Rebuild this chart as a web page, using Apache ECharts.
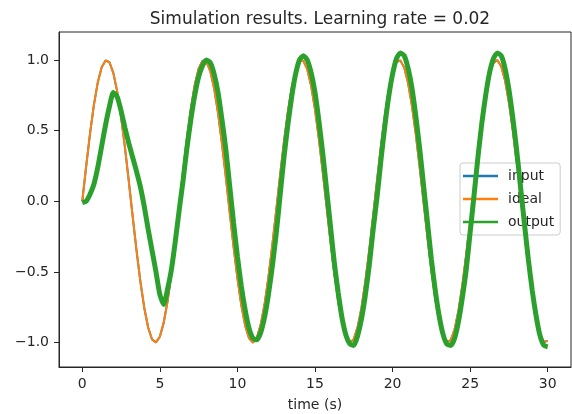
<!DOCTYPE html>
<html><head><meta charset="utf-8">
<script src="https://cdn.jsdelivr.net/npm/echarts@6/dist/echarts.min.js"></script>
<style>html,body{margin:0;padding:0;background:#fff}#c{width:572px;height:414px}</style>
</head><body><div id="c"></div>
<script>
const time = [0,0.25,0.5,0.75,1,1.25,1.5,1.75,2,2.25,2.5,2.75,3,3.25,3.5,3.75,4,4.25,4.5,4.75,5,5.25,5.5,5.75,6,6.25,6.5,6.75,7,7.25,7.5,7.75,8,8.25,8.5,8.75,9,9.25,9.5,9.75,10,10.25,10.5,10.75,11,11.25,11.5,11.75,12,12.25,12.5,12.75,13,13.25,13.5,13.75,14,14.25,14.5,14.75,15,15.25,15.5,15.75,16,16.25,16.5,16.75,17,17.25,17.5,17.75,18,18.25,18.5,18.75,19,19.25,19.5,19.75,20,20.25,20.5,20.75,21,21.25,21.5,21.75,22,22.25,22.5,22.75,23,23.25,23.5,23.75,24,24.25,24.5,24.75,25,25.25,25.5,25.75,26,26.25,26.5,26.75,27,27.25,27.5,27.75,28,28.25,28.5,28.75,29,29.25,29.5,29.75,30];

const inputValues = [0,0.247,0.479,0.682,0.841,0.949,0.997,0.984,0.909,0.778,0.598,0.382,0.141,-0.108,-0.351,-0.572,-0.757,-0.895,-0.978,-0.999,-0.959,-0.859,-0.706,-0.509,-0.279,-0.033,0.215,0.450,0.657,0.823,0.938,0.995,0.989,0.922,0.798,0.625,0.412,0.174,-0.075,-0.319,-0.544,-0.735,-0.880,-0.970,-1.000,-0.967,-0.875,-0.729,-0.537,-0.311,-0.066,0.183,0.420,0.632,0.804,0.926,0.991,0.994,0.935,0.818,0.650,0.441,0.206,-0.042,-0.288,-0.516,-0.712,-0.864,-0.961,-1.000,-0.976,-0.891,-0.751,-0.564,-0.343,-0.100,0.150,0.390,0.606,0.784,0.913,0.986,0.997,0.946,0.837,0.675,0.472,0.238,-0.009,-0.256,-0.487,-0.688,-0.846,-0.952,-0.997,-0.982,-0.906,-0.773,-0.592,-0.374,-0.132,0.117,0.359,0.579,0.763,0.899,0.979,0.999,0.956,0.854,0.699,0.501,0.271,0.024,-0.223,-0.458,-0.664,-0.828,-0.941,-0.996,-0.988];

const idealValues = [0,0.247,0.479,0.682,0.841,0.949,0.997,0.984,0.909,0.778,0.598,0.382,0.141,-0.108,-0.351,-0.572,-0.757,-0.895,-0.978,-0.999,-0.959,-0.859,-0.706,-0.509,-0.279,-0.033,0.215,0.450,0.657,0.823,0.938,0.995,0.989,0.922,0.798,0.625,0.412,0.174,-0.075,-0.319,-0.544,-0.735,-0.880,-0.970,-1.000,-0.967,-0.875,-0.729,-0.537,-0.311,-0.066,0.183,0.420,0.632,0.804,0.926,0.991,0.994,0.935,0.818,0.650,0.441,0.206,-0.042,-0.288,-0.516,-0.712,-0.864,-0.961,-1.000,-0.976,-0.891,-0.751,-0.564,-0.343,-0.100,0.150,0.390,0.606,0.784,0.913,0.986,0.997,0.946,0.837,0.675,0.472,0.238,-0.009,-0.256,-0.487,-0.688,-0.846,-0.952,-0.997,-0.982,-0.906,-0.773,-0.592,-0.374,-0.132,0.117,0.359,0.579,0.763,0.899,0.979,0.999,0.956,0.854,0.699,0.501,0.271,0.024,-0.223,-0.458,-0.664,-0.828,-0.941,-0.996,-0.988];

const outputValues = [-0.01,0.00,0.05,0.12,0.24,0.39,0.54,0.67,0.77,0.74,0.64,0.52,0.41,0.31,0.21,0.10,-0.04,-0.20,-0.35,-0.50,-0.66,-0.73,-0.62,-0.48,-0.28,-0.06,0.15,0.38,0.58,0.75,0.88,0.96,1.00,0.98,0.90,0.77,0.58,0.37,0.11,-0.15,-0.39,-0.60,-0.77,-0.90,-0.97,-0.98,-0.93,-0.82,-0.66,-0.46,-0.23,0.04,0.31,0.54,0.74,0.90,1.00,1.03,1.00,0.91,0.77,0.57,0.34,0.08,-0.18,-0.44,-0.65,-0.83,-0.95,-1.01,-1.02,-0.95,-0.83,-0.66,-0.45,-0.20,0.03,0.29,0.53,0.74,0.90,1.01,1.05,1.03,0.94,0.80,0.60,0.37,0.11,-0.15,-0.41,-0.63,-0.81,-0.94,-1.01,-1.02,-0.97,-0.85,-0.68,-0.48,-0.22,0.04,0.31,0.55,0.75,0.91,1.01,1.05,1.03,0.94,0.79,0.59,0.36,0.10,-0.16,-0.41,-0.63,-0.81,-0.95,-1.02,-1.03];

const seriesNames = ['input', 'ideal', 'output'];
const xTicks = [0, 5, 10, 15, 20, 25, 30];
const yTicks = [-1, -0.5, 0, 0.5, 1];
const titleText = 'Simulation results. Learning rate = 0.02';
const xName = 'time (s)';

const FONT = 'DejaVu Sans';
const pairs = vals => time.map((t, i) => [t, vals[i]]);
const fmtY = v => (v < 0 ? '\u2212' : '') + Math.abs(v).toFixed(1);

const chart = echarts.init(document.getElementById('c'), null, {renderer: 'canvas'});
chart.setOption({
  animation: false,
  backgroundColor: '#ffffff',
  title: {
    text: titleText, left: 315, top: 6, textAlign: 'center',
    textStyle: {fontFamily: FONT, fontSize: 17, fontWeight: 'normal', color: '#262626'}
  },
  grid: {left: 59, right: 1, top: 32, bottom: 47, containLabel: false, outerBoundsMode: 'none',
    show: true, borderColor: '#262626', borderWidth: 1, backgroundColor: 'transparent'},
  legend: {
    orient: 'vertical', left: 460, top: 163, padding: [6, 6, 6, 3],
    itemWidth: 35, itemHeight: 2.5, itemGap: 9, icon: 'rect',
    backgroundColor: 'rgba(255,255,255,0.8)', borderColor: '#cccccc', borderWidth: 1, borderRadius: 3,
    textStyle: {fontFamily: FONT, fontSize: 14, color: '#262626', padding: [0, 0, 0, 5]},
    data: seriesNames
  },
  xAxis: {
    type: 'value', min: -1.5, max: 31.5,
    name: xName, nameLocation: 'middle', nameGap: 31,
    nameTextStyle: {fontFamily: FONT, fontSize: 14, color: '#262626'},
    axisLine: {show: true, onZero: false, lineStyle: {color: '#262626', width: 1}},
    axisTick: {show: true, length: 5, customValues: xTicks, lineStyle: {color: '#262626'}},
    axisLabel: {customValues: xTicks, margin: 10, fontFamily: FONT, fontSize: 14, color: '#262626',
      formatter: v => String(v)},
    splitLine: {show: false}
  },
  yAxis: {
    type: 'value', min: -1.173, max: 1.198,
    axisLine: {show: true, onZero: false, lineStyle: {color: '#262626', width: 1}},
    axisTick: {show: true, length: 5, customValues: yTicks, lineStyle: {color: '#262626'}},
    axisLabel: {customValues: yTicks, margin: 10, fontFamily: FONT, fontSize: 14, color: '#262626',
      formatter: fmtY},
    splitLine: {show: false}
  },
  series: [
    {name: seriesNames[0], type: 'line', data: pairs(inputValues), symbol: 'none',
      lineStyle: {color: '#1f77b4', width: 2}, itemStyle: {color: '#1f77b4'}, z: 2},
    {name: seriesNames[1], type: 'line', data: pairs(idealValues), symbol: 'none',
      lineStyle: {color: '#ff7f0e', width: 2}, itemStyle: {color: '#ff7f0e'}, z: 3},
    {name: seriesNames[2], type: 'line', data: pairs(outputValues), symbol: 'none', smooth: 0.2,
      lineStyle: {color: '#2ca02c', width: 5}, itemStyle: {color: '#2ca02c'}, z: 4}
  ]
});
</script>
</body></html>
